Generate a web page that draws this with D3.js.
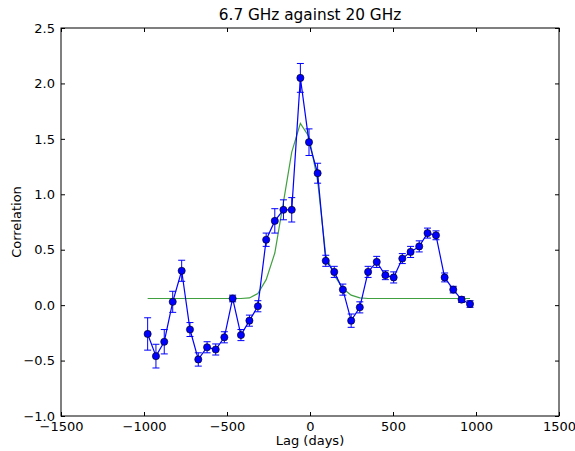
<!DOCTYPE html>
<html><head><meta charset="utf-8">
<script src="https://cdn.jsdelivr.net/npm/d3@7"></script>
<style>body{margin:0;background:#fff}svg{display:block}text{font-family:"DejaVu Sans",sans-serif}</style>
</head><body><svg id="c" width="575" height="451"></svg>
<script>
const lags = [-978,-928,-878,-827,-773,-723,-673,-620,-568,-516,-466,-416,-365,-314,-264,-212,-160,-110,-58,-6,46,95,146,198,248,300,350,402,454,504,556,606,658,708,759,811,863,913,964];
const corr = [-0.26,-0.46,-0.33,0.03,0.31,-0.22,-0.49,-0.38,-0.40,-0.29,0.06,-0.27,-0.14,-0.01,0.59,0.76,0.86,0.86,2.05,1.47,1.19,0.40,0.30,0.14,-0.14,-0.02,0.30,0.39,0.27,0.25,0.42,0.48,0.53,0.65,0.63,0.25,0.14,0.05,0.01];
const err = [0.146,0.107,0.11,0.095,0.095,0.063,0.06,0.05,0.05,0.05,0.03,0.05,0.05,0.05,0.06,0.11,0.09,0.11,0.13,0.12,0.09,0.05,0.05,0.05,0.06,0.05,0.05,0.05,0.04,0.05,0.045,0.05,0.05,0.045,0.04,0.04,0.03,0.025,0.03];
const model = [0.06,0.06,0.06,0.06,0.06,0.06,0.06,0.06,0.06,0.06,0.06,0.06,0.065,0.105,0.23,0.47,0.93,1.38,1.64,1.52,1.12,0.45,0.27,0.15,0.09,0.065,0.06,0.06,0.06,0.06,0.06,0.06,0.06,0.06,0.06,0.06,0.06,0.06,0.06];
const xTicks = [-1500,-1000,-500,0,500,1000,1500];
const yTicks = [-1.0,-0.5,0.0,0.5,1.0,1.5,2.0,2.5];

const L=61,R=559,T=28,B=416;
const svg=d3.select("#c");
const x=d3.scaleLinear().domain([-1500,1500]).range([L,R]);
const y=d3.scaleLinear().domain([-1,2.5]).range([B,T]);
const fmt=v=>v.toFixed(1).replace("-","\u2212");
const fmtX=v=>String(v).replace("-","\u2212");

const g=svg.append("g");
g.append("path").datum(lags.map((l,i)=>[l,model[i]]))
 .attr("d",d3.line().x(d=>x(d[0])).y(d=>y(d[1])))
 .attr("fill","none").attr("stroke","#008000").attr("stroke-width",1.2).attr("opacity",0.75);
g.append("path").datum(lags.map((l,i)=>[l,corr[i]]))
 .attr("d",d3.line().x(d=>x(d[0])).y(d=>y(d[1])))
 .attr("fill","none").attr("stroke","#0000ff").attr("stroke-width",1.2);
const eb=g.selectAll(".eb").data(lags.map((l,i)=>({l,v:corr[i],e:err[i]}))).enter().append("g");
eb.append("line").attr("x1",d=>x(d.l)).attr("x2",d=>x(d.l)).attr("y1",d=>y(d.v-d.e)).attr("y2",d=>y(d.v+d.e)).attr("stroke","#0000ff").attr("stroke-width",1);
eb.append("line").attr("x1",d=>x(d.l)-3.5).attr("x2",d=>x(d.l)+3.5).attr("y1",d=>y(d.v-d.e)).attr("y2",d=>y(d.v-d.e)).attr("stroke","#0000ff").attr("stroke-width",1);
eb.append("line").attr("x1",d=>x(d.l)-3.5).attr("x2",d=>x(d.l)+3.5).attr("y1",d=>y(d.v+d.e)).attr("y2",d=>y(d.v+d.e)).attr("stroke","#0000ff").attr("stroke-width",1);
g.selectAll(".pt").data(lags.map((l,i)=>[l,corr[i]])).enter().append("circle")
 .attr("cx",d=>x(d[0])).attr("cy",d=>y(d[1])).attr("r",3.6)
 .attr("fill","#0000ff").attr("stroke","#000").attr("stroke-width",0.6);

const ax=svg.append("g");
ax.append("g").attr("transform",`translate(0,${B})`).call(d3.axisBottom(x).tickValues(xTicks).tickSizeInner(-4).tickSizeOuter(0).tickPadding(6).tickFormat(fmtX));
ax.append("g").attr("transform",`translate(0,${T})`).call(d3.axisTop(x).tickValues(xTicks).tickSizeInner(-4).tickSizeOuter(0).tickFormat(""));
ax.append("g").attr("transform",`translate(${L},0)`).call(d3.axisLeft(y).tickValues(yTicks).tickSizeInner(-4).tickSizeOuter(0).tickPadding(6).tickFormat(fmt));
ax.append("g").attr("transform",`translate(${R},0)`).call(d3.axisRight(y).tickValues(yTicks).tickSizeInner(-4).tickSizeOuter(0).tickFormat(""));
ax.selectAll(".domain").remove();
ax.selectAll("text").attr("font-size",13).attr("fill","#000").style("font-family","DejaVu Sans");
ax.selectAll(".tick line").attr("stroke","#000");
svg.append("rect").attr("x",L).attr("y",T).attr("width",R-L).attr("height",B-T).attr("fill","none").attr("stroke","#000").attr("stroke-width",1);

svg.append("text").attr("x",(L+R)/2).attr("y",20).attr("text-anchor","middle").attr("font-size",15.3).text("6.7 GHz against 20 GHz");
svg.append("text").attr("x",(L+R)/2).attr("y",445).attr("text-anchor","middle").attr("font-size",13).text("Lag (days)");
svg.append("text").attr("transform",`translate(21,${(T+B)/2}) rotate(-90)`).attr("text-anchor","middle").attr("font-size",13).text("Correlation");
</script></body></html>
